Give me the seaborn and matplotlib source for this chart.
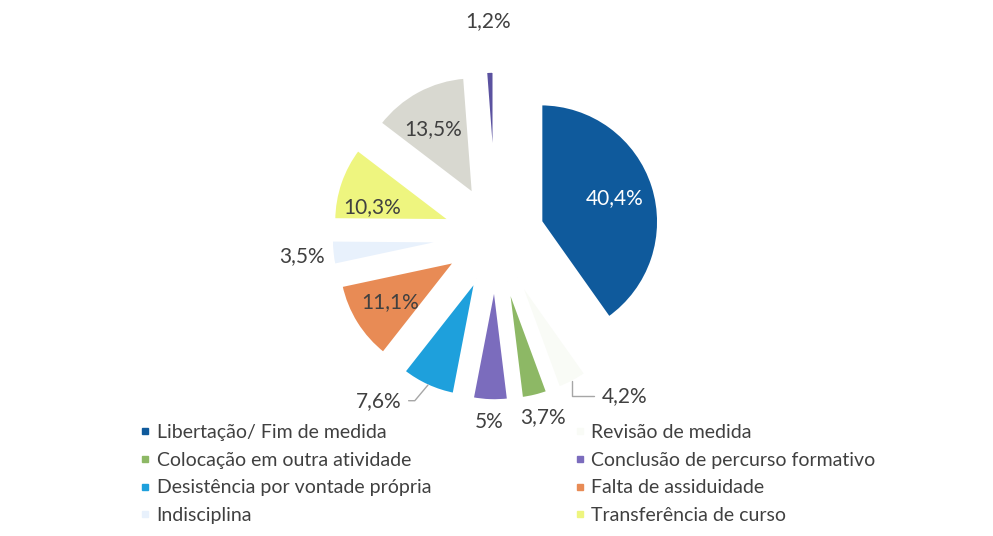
import numpy as np
import matplotlib
matplotlib.use("Agg")
import matplotlib.pyplot as plt
import seaborn as sns
from matplotlib.lines import Line2D

# dados (ordem do gráfico, sentido horário a partir das 12h)
categorias = ["Libertação/ Fim de medida", "Revisão de medida",
              "Colocação em outra atividade", "Conclusão de percurso formativo",
              "Desistência por vontade própria", "Falta de assiduidade",
              "Indisciplina", "Transferência de curso",
              "Outro", "Outro (2)"]
percentagens = [40.4, 4.2, 3.7, 5, 7.6, 11.1, 3.5, 10.3, 13.5, 1.2]
rotulos = ["40,4%", "4,2%", "3,7%", "5%", "7,6%", "11,1%", "3,5%", "10,3%", "13,5%", "1,2%"]
cores = ["#0f5a9c", "#f9fbf6", "#8db865", "#7b6cbd", "#1ea0dc",
         "#e88b55", "#e8f1fc", "#eef57f", "#d8d8d0", "#5b52a0"]

# estilo dos rótulos: distância radial e ajuste de ângulo (graus, sentido horário)
dist_rotulo = [1.06, 1.75, 1.6, 1.59, 1.73, 1.07, 1.67, 1.09, 1.06, 1.84]
ajuste_ang = [0, -11, -1, 0, 11, 0, 0, -6, -2, 0]
com_linha = {1: "angle,angleA=0,angleB=90", 4: "angle,angleA=0,angleB=50"}

sns.set_theme(style="white")
plt.rcParams["font.family"] = ["Lato", "DejaVu Sans"]
cinza = "#404040"

fig = plt.figure(figsize=(9.93, 5.36), dpi=100)
ax = fig.add_axes([0, 0, 1, 1])
r_px = 117
wedges, _ = ax.pie(percentagens, colors=cores, startangle=90, counterclock=False,
                   explode=[0.4] * len(percentagens), radius=1.01,
                   wedgeprops=dict(linewidth=2.5, edgecolor="white"))
ax.set_xlim(-496 / r_px, 497 / r_px)
ax.set_ylim(-300 / r_px, 236 / r_px)
ax.axis("off")

for i, w in enumerate(wedges):
    meio = (w.theta1 + w.theta2) / 2
    ang = np.deg2rad(meio - ajuste_ang[i])
    x, y = dist_rotulo[i] * np.cos(ang), dist_rotulo[i] * np.sin(ang)
    cor_txt = "white" if i == 0 else cinza
    if i in com_linha:
        am = np.deg2rad(meio)
        ponta = (1.4 * np.cos(am), 1.4 * np.sin(am))
        ax.annotate(rotulos[i], xy=ponta, xytext=(x, y), ha="center", va="center",
                    fontsize=15, color=cor_txt,
                    arrowprops=dict(arrowstyle="-", color="#a6a6a6", lw=1,
                                    connectionstyle=com_linha[i], shrinkA=3, shrinkB=0))
    else:
        ax.text(x, y, rotulos[i], ha="center", va="center", fontsize=15, color=cor_txt)

# legenda em duas colunas (só as 8 primeiras categorias)
def marcas(idx):
    return [Line2D([], [], marker="s", linestyle="", color=cores[k], markersize=5) for k in idx]

opts = dict(loc="upper left", frameon=False, handlelength=0.5, handletextpad=0.35,
            labelspacing=0.55, fontsize=14, labelcolor=cinza, borderaxespad=0, borderpad=0)
esq = [0, 2, 4, 6]
dir_ = [1, 3, 5, 7]
fig.legend(marcas(esq), [categorias[k] for k in esq], bbox_to_anchor=(0.141, 0.209), **opts)
fig.legend(marcas(dir_), [categorias[k] for k in dir_], bbox_to_anchor=(0.579, 0.209), **opts)

fig.savefig("out.png", dpi=100, facecolor="white")
